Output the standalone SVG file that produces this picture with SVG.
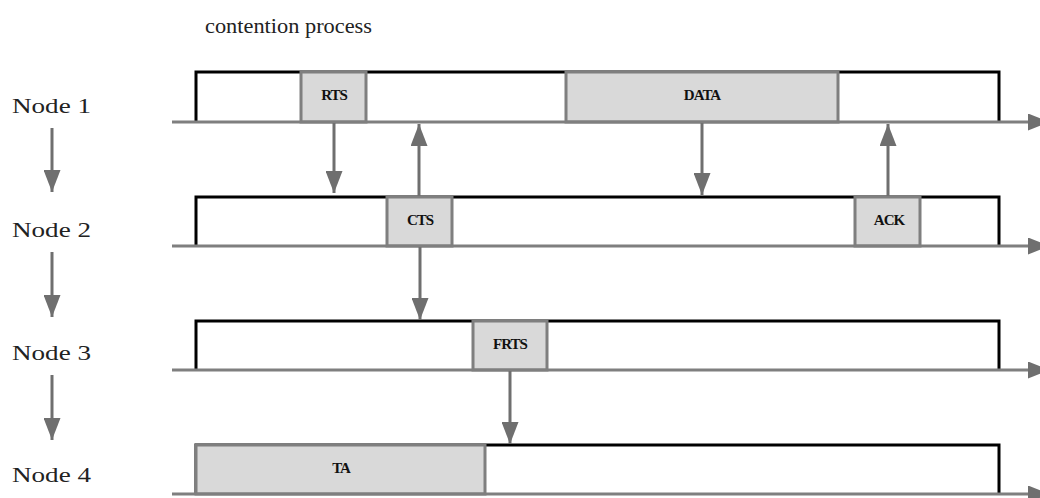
<svg xmlns="http://www.w3.org/2000/svg" width="1040" height="498" viewBox="0 0 1040 498">
  <defs>
    <style>
      .lane { fill: #ffffff; stroke: #000000; stroke-width: 3; }
      .slot { fill: #d9d9d9; stroke: #7f7f7f; stroke-width: 3; }
      .axis { stroke: #7f7f7f; stroke-width: 3; fill: none; }
      .msg { stroke: #6f6f6f; stroke-width: 3; fill: none; }
      .lbl { font-family: "Liberation Serif", "Times New Roman", serif; font-size: 15px; font-weight: bold; fill: #111111; text-anchor: middle; letter-spacing: -1px; }
      .name { font-family: "Liberation Serif", "Times New Roman", serif; font-size: 21px; fill: #222222; }
    </style>
    <marker id="head" markerUnits="userSpaceOnUse" markerWidth="22" markerHeight="17" refX="22" refY="8.5" orient="auto">
      <path d="M0,0 L22,8.5 L0,17 z" fill="#6f6f6f"/>
    </marker>
  </defs>

  <rect width="1040" height="498" fill="#ffffff"/>

  <text class="name" x="205" y="33" textLength="167" lengthAdjust="spacingAndGlyphs">contention process</text>

  <!-- Node 1 timeline -->
  <g id="node1">
    <text class="name" x="12" y="113" textLength="79" lengthAdjust="spacingAndGlyphs">Node 1</text>
    <path class="lane" d="M196,122 V72 H999 V122"/>
    <rect class="slot" x="301" y="72" width="65" height="50"/>
    <text class="lbl" x="334" y="100">RTS</text>
    <rect class="slot" x="566" y="72" width="272" height="50"/>
    <text class="lbl" x="702" y="100">DATA</text>
    <line class="axis" x1="172" y1="122" x2="1050" y2="122" marker-end="url(#head)"/>
  </g>

  <!-- Node 2 timeline -->
  <g id="node2">
    <text class="name" x="12" y="237" textLength="79" lengthAdjust="spacingAndGlyphs">Node 2</text>
    <path class="lane" d="M196,246 V197 H999 V246"/>
    <rect class="slot" x="387" y="197" width="65" height="49"/>
    <text class="lbl" x="420" y="225">CTS</text>
    <rect class="slot" x="855" y="197" width="65" height="49"/>
    <text class="lbl" x="889" y="225">ACK</text>
    <line class="axis" x1="172" y1="246" x2="1050" y2="246" marker-end="url(#head)"/>
  </g>

  <!-- Node 3 timeline -->
  <g id="node3">
    <text class="name" x="12" y="360" textLength="79" lengthAdjust="spacingAndGlyphs">Node 3</text>
    <path class="lane" d="M196,370 V321 H999 V370"/>
    <rect class="slot" x="473" y="321" width="74" height="49"/>
    <text class="lbl" x="510" y="349">FRTS</text>
    <line class="axis" x1="172" y1="370" x2="1050" y2="370" marker-end="url(#head)"/>
  </g>

  <!-- Node 4 timeline -->
  <g id="node4">
    <text class="name" x="12" y="482" textLength="79" lengthAdjust="spacingAndGlyphs">Node 4</text>
    <path class="lane" d="M196,494 V445 H999 V494"/>
    <rect class="slot" x="196" y="445" width="289" height="49"/>
    <text class="lbl" x="341" y="473">TA</text>
    <line class="axis" x1="172" y1="494" x2="1050" y2="494" marker-end="url(#head)"/>
  </g>

  <!-- message and order connectors -->
  <g id="connectors">
    <line class="msg" x1="52" y1="128" x2="52" y2="192" marker-end="url(#head)"/>
    <line class="msg" x1="52" y1="252" x2="52" y2="317" marker-end="url(#head)"/>
    <line class="msg" x1="52" y1="375" x2="52" y2="440" marker-end="url(#head)"/>
    <line class="msg" x1="334" y1="123" x2="334" y2="193" marker-end="url(#head)"/>
    <line class="msg" x1="419" y1="196" x2="419" y2="124" marker-end="url(#head)"/>
    <line class="msg" x1="702" y1="123" x2="702" y2="195" marker-end="url(#head)"/>
    <line class="msg" x1="888" y1="196" x2="888" y2="124" marker-end="url(#head)"/>
    <line class="msg" x1="420" y1="247" x2="420" y2="320" marker-end="url(#head)"/>
    <line class="msg" x1="510" y1="371" x2="510" y2="444" marker-end="url(#head)"/>
  </g>
</svg>
